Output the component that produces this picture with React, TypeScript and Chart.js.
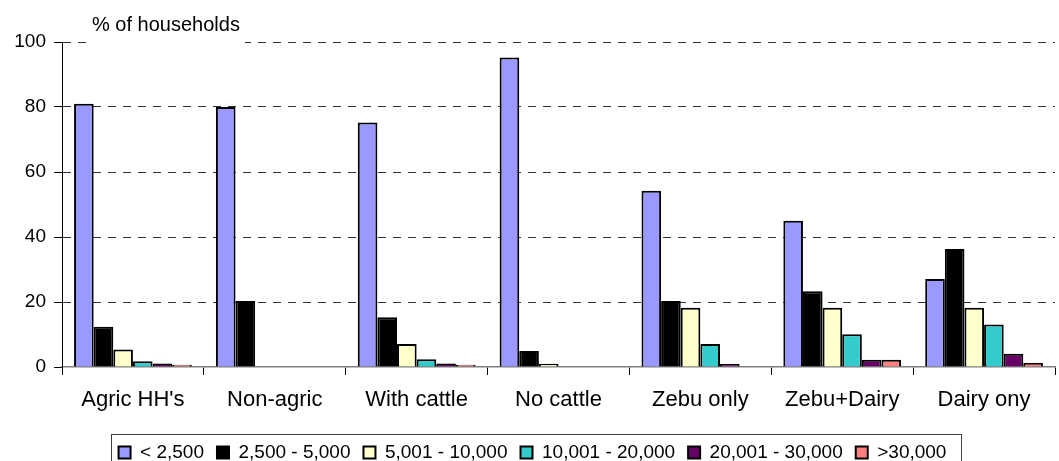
import React, { useEffect, useRef } from "react";
import { Chart, registerables } from "chart.js";

Chart.register(...registerables);

const categories = ["Agric HH's", "Non-agric", "With cattle", "No cattle", "Zebu only", "Zebu+Dairy", "Dairy ony"];
const seriesLabels = ["< 2,500", "2,500 - 5,000", "5,001 - 10,000", "10,001 - 20,000", "20,001 - 30,000", ">30,000"];
const under2500 = [81, 80, 75.2, 95.2, 54.2, 45, 27.1];
const from2500to5000 = [12.4, 20.3, 15.3, 4.9, 20.3, 23.3, 36.3];
const from5001to10000 = [5.4, 0, 7.1, 1.0, 18.2, 18.2, 18.2];
const from10001to20000 = [1.8, 0, 2.4, 0, 7.1, 10.1, 13.1];
const from20001to30000 = [1.1, 0, 1.1, 0, 0.9, 2.2, 4.1];
const over30000 = [0.7, 0, 0.7, 0, 0, 2.2, 1.2];
const seriesColors = ["#9999FF", "#000000", "#FFFFCC", "#33CCCC", "#660066", "#FF8080"];
const yTicks = [0, 20, 40, 60, 80, 100];
const yTitle = "% of households";

const FONT = "'Liberation Sans', Arial, sans-serif";

export default function App() {
  const ref = useRef<HTMLCanvasElement | null>(null);

  useEffect(() => {
    document.body.style.margin = "0";
    const canvas = ref.current;
    if (!canvas) return;
    const values = [under2500, from2500to5000, from5001to10000, from10001to20000, from20001to30000, over30000];

    const decor = {
      id: "decor",
      beforeDatasetsDraw(chart: any) {
        const { ctx, chartArea } = chart;
        ctx.save();
        ctx.fillStyle = "#ffffff";
        ctx.fillRect(chartArea.left + 26, chartArea.top - 6, 157, 10);
        ctx.restore();
      },
      afterDraw(chart: any) {
        const { ctx, chartArea } = chart;
        ctx.save();
        ctx.font = `20px ${FONT}`;
        ctx.fillStyle = "#000";
        ctx.textBaseline = "middle";
        ctx.textAlign = "left";
        ctx.fillText(yTitle, chartArea.left + 30, chartArea.top - 17);
        const hb = chart.legend?.legendHitBoxes;
        if (hb && hb.length) {
          const first = hb[0];
          const last = hb[hb.length - 1];
          const l = first.left - 8;
          const r = last.left + last.width + 14;
          const t = first.top - 9;
          ctx.strokeStyle = "#404040";
          ctx.lineWidth = 1;
          ctx.strokeRect(Math.round(l) + 0.5, Math.round(t) + 0.5, Math.round(r - l), 60);
        }
        ctx.restore();
      },
    };

    const chart = new Chart(canvas, {
      type: "bar",
      data: {
        labels: categories,
        datasets: seriesLabels.map((label, i) => ({
          label,
          data: values[i],
          backgroundColor: seriesColors[i],
          borderColor: "#000000",
          borderWidth: 2,
          categoryPercentage: 0.83,
          barPercentage: 1,
        })),
      },
      options: {
        animation: false,
        responsive: true,
        maintainAspectRatio: false,
        layout: { padding: { top: 42, left: 10, right: 4, bottom: 0 } },
        plugins: {
          tooltip: { enabled: false },
          legend: {
            position: "bottom",
            maxHeight: 31,
            labels: {
              boxWidth: 12,
              boxHeight: 12,
              padding: 13,
              color: "#000",
              font: { family: FONT, size: 19 },
            },
          },
        },
        scales: {
          x: {
            afterFit: (s: any) => {
              s.height = 63;
            },
            grid: {
              display: true,
              drawOnChartArea: false,
              drawTicks: true,
              tickLength: 8,
              tickColor: "#000",
              offset: true,
            },
            border: { display: true, color: "#808080", width: 1.5 },
            ticks: {
              color: "#000",
              padding: 12,
              maxRotation: 0,
              font: { family: FONT, size: 22 },
            },
          },
          y: {
            min: 0,
            max: 100,
            afterFit: (s: any) => {
              s.width = 52;
            },
            afterBuildTicks: (s: any) => {
              s.ticks = yTicks.map((v) => ({ value: v }));
            },
            grid: {
              color: (c: any) => (c.tick && c.tick.value === 0 ? "rgba(0,0,0,0)" : "#333333"),
              lineWidth: 1,
              drawTicks: true,
              tickLength: 8,
              tickColor: "#000",
              tickBorderDash: [],
            },
            border: { display: true, color: "#000", width: 1, dash: [8, 7] },
            ticks: {
              color: "#000",
              padding: 8,
              font: { family: FONT, size: 19 },
            },
          },
        },
      },
      plugins: [decor],
    } as any);

    return () => chart.destroy();
  }, []);

  return (
    <div style={{ position: "fixed", left: 0, top: 0, width: 1059, height: 461, background: "#fff" }}>
      <canvas ref={ref} />
    </div>
  );
}
